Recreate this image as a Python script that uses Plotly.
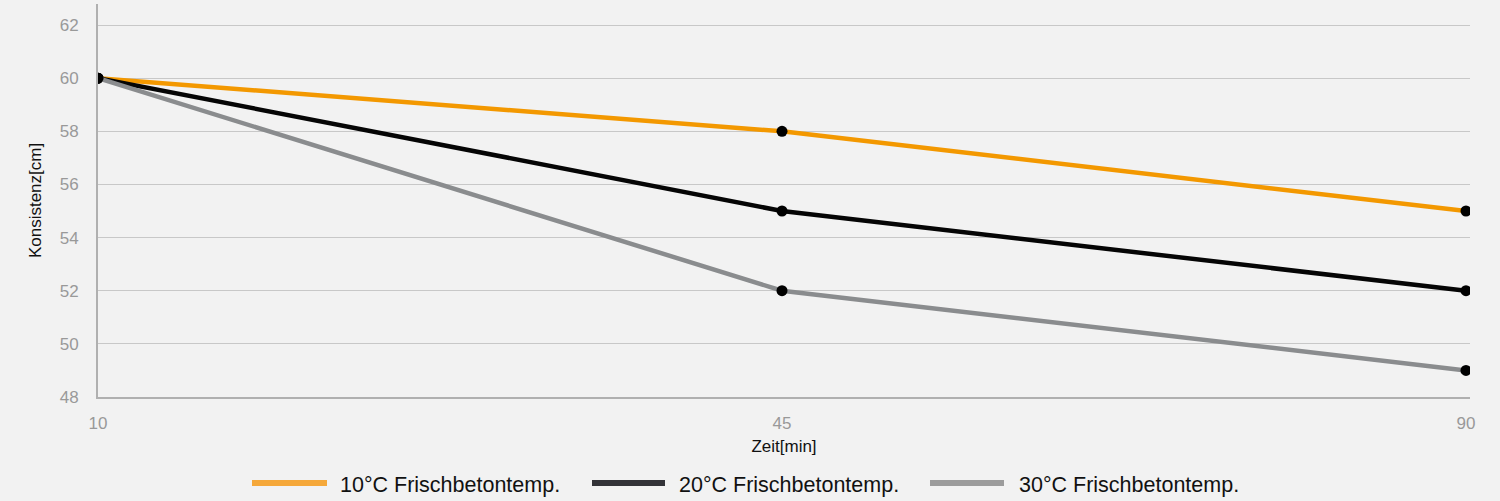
import plotly.graph_objects as go

categories = ["10", "45", "90"]
series_names = ["10°C Frischbetontemp.", "20°C Frischbetontemp.", "30°C Frischbetontemp."]
values_10 = [60, 58, 55]
values_20 = [60, 55, 52]
values_30 = [60, 52, 49]
line_colors = ["#f39800", "#050505", "#8a8c8e"]
legend_colors = ["#f5a83a", "#333338", "#9c9c9c"]
y_ticks = [48, 50, 52, 54, 56, 58, 60, 62]

L, R, T, B = 98, 1470, 4, 397
PW, PH = R - L, B - T

fig = go.Figure()
for name, vals, col in zip(series_names, [values_10, values_20, values_30], line_colors):
    fig.add_trace(go.Scatter(
        x=categories, y=vals, name=name, mode="lines+markers",
        line=dict(color=col, width=4.5),
        marker=dict(color="#000000", size=11),
        showlegend=False,
    ))

# custom legend (wide line swatches)
leg_x = [(252, 327, 338), (592, 665, 677), (930, 1004, 1017)]
for (x0, x1, xt), name, col in zip(leg_x, series_names, legend_colors):
    fig.add_shape(type="line", xref="paper", yref="paper",
                  x0=(x0 - L) / PW, x1=(x1 - L) / PW,
                  y0=(B - 483) / PH, y1=(B - 483) / PH,
                  line=dict(color=col, width=6))
    fig.add_annotation(xref="paper", yref="paper", x=(xt - L) / PW,
                       y=(B - 484.5) / PH, xanchor="left", yanchor="middle",
                       text=name, showarrow=False,
                       font=dict(size=21.5, color="#111111"))

fig.update_layout(
    width=1500, height=501,
    margin=dict(l=L, r=1500 - R, t=T, b=501 - B),
    paper_bgcolor="#f2f2f2", plot_bgcolor="#f2f2f2",
    font=dict(family="Liberation Sans, Arial, sans-serif"),
    xaxis=dict(
        type="category", range=[0, 2 * PW / 1368], showgrid=False,
        showline=True, linecolor="#b0b0b0", linewidth=2,
        tickfont=dict(size=17, color="#999999"),
        ticks="", ticklabelstandoff=10,
        title=dict(text="Zeit[min]", font=dict(size=17, color="#111111"), standoff=8),
        zeroline=False,
    ),
    yaxis=dict(
        range=[48, 48 + 14 * PH / 372], tickvals=y_ticks,
        showgrid=True, gridcolor="#c8c8c8", gridwidth=1.2,
        showline=True, linecolor="#b0b0b0", linewidth=2,
        tickfont=dict(size=17, color="#999999"),
        ticks="", ticklabelstandoff=14,
        title=dict(text="Konsistenz[cm]", font=dict(size=17, color="#111111"), standoff=14),
        zeroline=False,
    ),
)

fig.write_html("out.html", config={"displayModeBar": False},
               post_script="document.body.style.margin='0';document.body.style.overflow='hidden';")
